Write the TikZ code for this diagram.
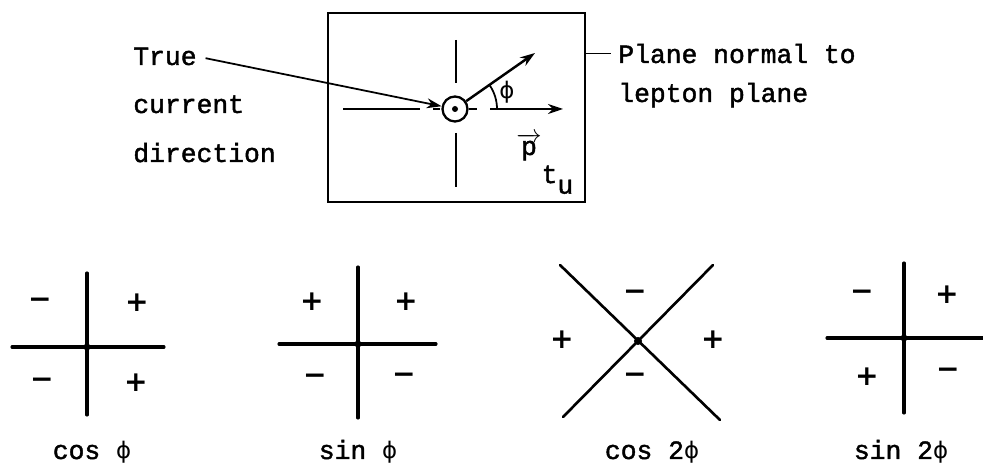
\documentclass[tikz,border=0pt]{standalone}
\usepackage{fontspec}
\setmonofont[FakeBold=1.6]{Liberation Mono}
\newfontfamily\signfont{DejaVu Sans}
\newcommand\ph{{\signfont\fontsize{13}{13}\selectfont ϕ}}
\usetikzlibrary{arrows.meta,positioning}
\tikzset{
  >={Stealth[length=3mm,width=2mm]},
  frame/.style={draw,line width=1.6pt,minimum width=5.14cm,minimum height=3.78cm,inner sep=0pt},
  axis/.style={line width=1.8pt,line cap=round},
  guide/.style={line width=1pt},
  ring/.style={circle,draw,line width=1.3pt,minimum size=0.5cm,inner sep=0pt},
  tw/.style={font=\ttfamily\fontsize{15}{18}\selectfont,inner sep=0pt,anchor=base west},
  caption/.style={font=\ttfamily\fontsize{15}{18}\selectfont,inner sep=0pt,anchor=base},
  sgn/.style={font=\signfont\bfseries\fontsize{16}{16}\selectfont,inner sep=0pt},
}

\begin{document}
\begin{tikzpicture}[x=0.02cm,y=0.02cm]
  \useasboundingbox (0,0) rectangle (983,466);
  % top panel
  \node[frame] (box) at (456.5,358.5) {};
  \coordinate (c) at (455,357);
  \node[ring] (rg) at (c) {};
  \fill (c) circle (3);
  \draw[guide] (456,426) -- (456,383) (456,333) -- (456,279);
  \draw[guide] (343,357) -- (420,357) (433,357) -- (440,357) (469,357) -- (477,357);
  \coordinate (px) at (563,357);
  \draw[guide,->] (490,357) -- (px);
  \coordinate (q) at (535,413);
  \draw[line width=1.4pt,->] (rg) -- (q);
  \draw[guide] ([shift={(0:42)}]c) arc[start angle=0,end angle=35,radius=42];
  \node[font=\fontsize{11}{11}\selectfont] (phi) at (507,374) {\ph};
  \node[tw] (pt) at (516,311) {$\overrightarrow{\mbox{p}}$\raisebox{-16pt}{t\raisebox{-6pt}{u}}};
  \node[tw] (t1) at (133,401) {True};
  \node[tw] (t2) at (133,353) {current};
  \node[tw] (t3) at (133,304) {direction};
  \draw[guide,->,shorten <=5pt] (t1.east) -- (rg);
  \node[tw] (pl1) at (618,403) {Plane normal to};
  \node[tw] (pl2) at (618,364) {lepton plane};
  \draw[guide] ([xshift=-4pt]pl1.west) -- (pl1.west -| box.east);
  % bottom panels
  \draw[axis] (87,193) -- (87,51) (12,119) -- (164,119);
  \fill (87,119) circle (3.5);
  \draw[axis] (358,199) -- (358,48) (279,122) -- (436,122);
  \fill (358,122) circle (3.5);
  \draw[axis,line width=1.5pt] (560,201) -- (720,46) (713,201) -- (563,49);
  \fill (638,125) circle (4);
  \draw[axis] (904,203) -- (904,53) (827,128) -- (983,128);
  \fill (904,128) circle (3.5);
  \foreach \x/\y/\s [count=\i] in {40/163/−,137/163/+,42/83/−,136/83/+,
      312/164/+,406/164/+,315/87/−,404/88/−,
      635/171/−,562/126/+,713/126/+,635/88/−,
      862/171/−,947/171/+,867/89/+,948/93/−}
    \node[sgn] (s\i) at (\x,\y) {\s};
  \node[caption] (cap1) at (92,7) {cos \ph};
  \node[caption] (cap2) at (358,7) {sin \ph};
  \node[caption] (cap3) at (652,7) {cos 2\ph};
  \node[caption] (cap4) at (901,7) {sin 2\ph};
\end{tikzpicture}
\end{document}
